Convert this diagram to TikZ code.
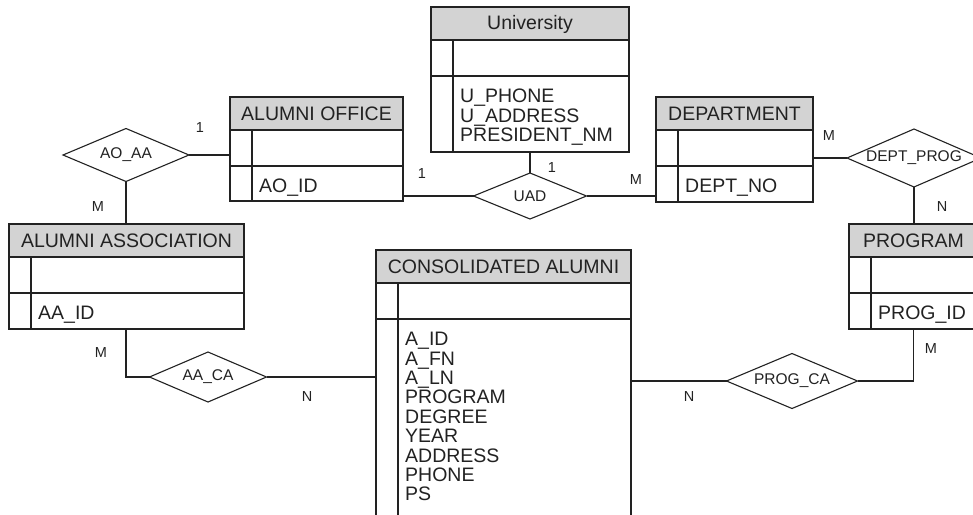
\documentclass[tikz,border=0pt]{standalone}
\usepackage{fontspec}
\setmainfont{Liberation Sans}
\usetikzlibrary{positioning,calc,shapes.geometric}

\definecolor{hdrgray}{HTML}{D3D3D3}
\definecolor{linegray}{HTML}{222222}

\tikzset{
  entbox/.style={rectangle, inner sep=0pt, outer sep=0pt, anchor=north west},
  boxline/.style={draw=linegray, line width=1.2pt},
  hdrtext/.style={inner sep=0pt, font=\fontsize{19.5}{19.5}\selectfont, text=linegray},
  attrtext/.style={inner sep=0pt, anchor=north west, align=left, font=\fontsize{19.5}{19.4}\selectfont, text=linegray},
  rel/.style={diamond, aspect=2.3, draw=linegray, line width=1.1pt, fill=white, inner sep=0pt, outer sep=0pt, font=\fontsize{15.5}{16}\selectfont, text=linegray},
  card/.style={inner sep=0pt, font=\fontsize{14.5}{15}\selectfont, text=linegray},
  conn/.style={draw=linegray, line width=1.1pt}
}

% entity table: name, corner, width, height, title, attributes
\newcommand{\ertable}[6]{%
  \node[entbox, minimum width=#3, minimum height=#4] (#1) at #2 {};
  \fill[hdrgray] (#1.north west) rectangle ($(#1.north east)+(0,33)$);
  \draw[boxline] (#1.north west) rectangle (#1.south east);
  \draw[boxline] ($(#1.north west)+(0,33)$) -- ($(#1.north east)+(0,33)$)
    ($(#1.north west)+(0,69)$) -- ($(#1.north east)+(0,69)$)
    ($(#1.north west)+(22,33)$) -- ($(#1.south west)+(22,0)$);
  \node[hdrtext] (#1-title) at ($(#1.north)+(0,17)$) {#5};
  \node[attrtext] (#1-attr) at ($(#1.north west)+(29,82)$) {#6};
}

\begin{document}
\begin{tikzpicture}[x=1pt,y=-1pt]
  \useasboundingbox (0,0) rectangle (973,514);
  \clip (0,0) rectangle (973,514);

  % entities
  \ertable{uni}{(431,7)}{198}{145}{University}{U\_PHONE\\U\_ADDRESS\\PRESIDENT\_NM}
  \ertable{ao}{(230,97)}{173}{104}{ALUMNI OFFICE}{AO\_ID}
  \ertable{dept}{(656,97)}{157}{105}{DEPARTMENT}{DEPT\_NO}
  \ertable{aa}{(9,224)}{235}{105}{ALUMNI ASSOCIATION}{AA\_ID}
  \ertable{prog}{(849,224)}{129}{105}{PROGRAM}{PROG\_ID}
  \ertable{ca}{(376,250)}{255}{300}{CONSOLIDATED ALUMNI}{A\_ID\\A\_FN\\A\_LN\\PROGRAM\\DEGREE\\YEAR\\ADDRESS\\PHONE\\PS}

  % relationships
  \node[rel, minimum width=126, minimum height=53] (aoaa) at (126,155) {AO\_AA};
  \node[rel, minimum width=113, minimum height=46] (uad) at (530,196) {UAD};
  \node[rel, minimum width=134, minimum height=58] (deptprog) at (914,158) {DEPT\_PROG};
  \node[rel, minimum width=117, minimum height=50] (aaca) at (208,377) {AA\_CA};
  \node[rel, minimum width=131, minimum height=55] (progca) at (792,381) {PROG\_CA};

  % connectors
  \draw[conn] (aoaa.east) -- (ao.west |- aoaa.east);
  \draw[conn] (aoaa.south) -- (aoaa.south |- aa.north);
  \draw[conn] (ao.east |- uad.west) -- (uad.west);
  \draw[conn] (uad.north |- uni.south) -- (uad.north);
  \draw[conn] (uad.east) -- (dept.west |- uad.east);
  \draw[conn] (dept.east |- deptprog.west) -- (deptprog.west);
  \draw[conn] (deptprog.south) -- (deptprog.south |- prog.north);
  \draw[conn] (progca.east) -| (prog.south);
  \draw[conn] (progca.west) -- (ca.east |- progca.west);
  \draw[conn] (aaca.west) -| (aa.south -| aoaa.south);
  \draw[conn] (aaca.east) -- (ca.west |- aaca.east);

  % cardinalities
  \node[card] (c1) at (200,128) {1};
  \node[card] (c2) at (98,207) {M};
  \node[card] (c3) at (422,174) {1};
  \node[card] (c4) at (552,168) {1};
  \node[card] (c5) at (636,180) {M};
  \node[card] (c6) at (829,136) {M};
  \node[card] (c7) at (942,207) {N};
  \node[card] (c8) at (931,349) {M};
  \node[card] (c9) at (689,397) {N};
  \node[card] (c10) at (101,353) {M};
  \node[card] (c11) at (307,397) {N};
\end{tikzpicture}
\end{document}
